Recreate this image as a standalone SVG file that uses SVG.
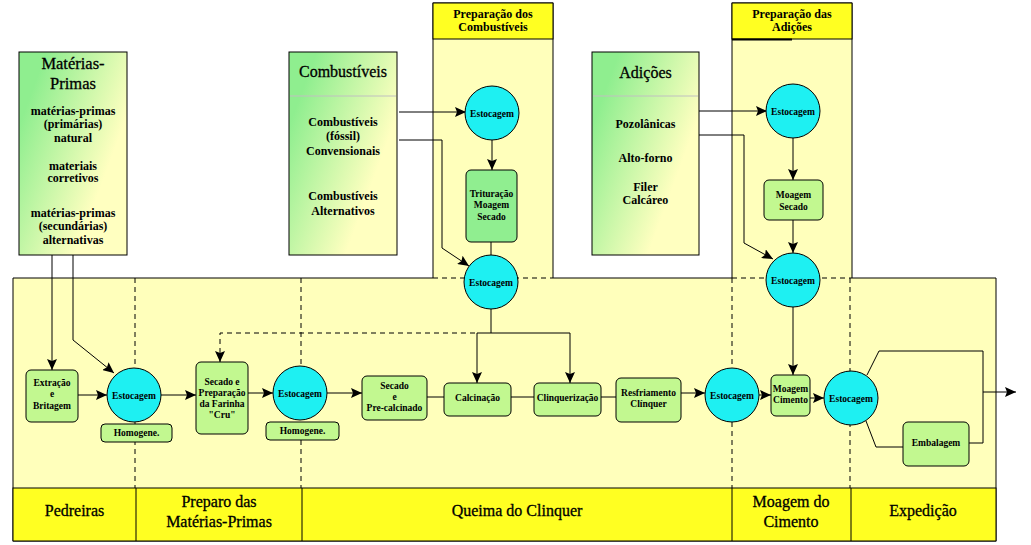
<svg xmlns="http://www.w3.org/2000/svg" width="1031" height="545" viewBox="0 0 1031 545">
<defs>
<linearGradient id="src" x1="0" y1="0.15" x2="1" y2="0.85">
<stop offset="0.1" stop-color="#8FEE8F"/>
<stop offset="0.75" stop-color="#FFFFC0"/>
</linearGradient>
<marker id="ah" markerUnits="userSpaceOnUse" markerWidth="12" markerHeight="10" refX="11" refY="5" orient="auto">
<path d="M0,0 L11,5 L0,10 L2,5 Z" fill="#000"/>
</marker>
</defs>
<style>
.bg{fill:#FFFFBB}
.hdr{fill:#FFFF22;stroke:#000;stroke-width:1}
.src{fill:url(#src);stroke:#000;stroke-width:1}
.box{fill:#C2F890;stroke:#000;stroke-width:1}
.box2{fill:#90EE90;stroke:#000;stroke-width:1}
.circ{fill:#1EF0F2;stroke:#000;stroke-width:1}
.ln{fill:none;stroke:#000;stroke-width:1}
.dash{fill:none;stroke:#000;stroke-width:1;stroke-dasharray:5,4}
.arr{marker-end:url(#ah)}
text{font-family:"Liberation Serif","Times New Roman",serif;text-anchor:middle;fill:#000}
.t9{font-size:9.5px;font-weight:bold}
.t12{font-size:12px;font-weight:bold}
.tt{font-size:16px;stroke:#000;stroke-width:0.3}
.th{font-size:12px;font-weight:bold}
.tb{font-size:16px;stroke:#000;stroke-width:0.3}
</style>

<g id="background">
<rect class="bg" x="13" y="278" width="983" height="263"/>
<rect class="bg" x="433" y="3" width="120" height="275"/>
<rect class="bg" x="732" y="3" width="120" height="275"/>
<path class="ln" d="M433,278 V3 H553 V278"/>
<path class="ln" d="M732,278 V3 H852 V278"/>
<rect class="hdr" x="433" y="3" width="120" height="36"/>
<rect class="hdr" x="732" y="3" width="120" height="36"/>
<line x1="732" y1="39.5" x2="792" y2="39.5" stroke="#000" stroke-width="2"/>
<text class="th" x="493" y="18">Preparação dos</text>
<text class="th" x="493" y="31">Combustíveis</text>
<text class="th" x="792" y="18">Preparação das</text>
<text class="th" x="792" y="31">Adições</text>
<path class="ln" d="M13,278 H433 M553,278 H732 M852,278 H996 V541 H13 V278"/>
<path class="dash" d="M433,278 H553 M732,278 H852"/>
<rect class="hdr" x="13" y="488" width="983" height="53"/>
<path class="ln" d="M136,488 V541 M302,488 V541 M732,488 V541 M851,488 V541"/>
<path class="dash" d="M135,278 V488 M301,278 V488 M732,278 V488 M850,278 V488"/>
<text class="tb" x="74.5" y="516">Pedreiras</text>
<text class="tb" x="219" y="507">Preparo das</text>
<text class="tb" x="219" y="527">Matérias-Primas</text>
<text class="tb" x="517" y="516">Queima do Clinquer</text>
<text class="tb" x="791" y="507">Moagem do</text>
<text class="tb" x="791" y="527">Cimento</text>
<text class="tb" x="923" y="516">Expedição</text>
</g>

<g id="connectors">
<path class="ln arr" d="M52,255 V370"/>
<path class="ln arr" d="M73,255 V340 L114,373"/>
<path class="ln arr" d="M78,395 H107"/>
<path class="ln arr" d="M161,395 H196"/>
<path class="ln arr" d="M248,393 H273"/>
<path class="ln arr" d="M327,393 H362"/>
<path class="ln" d="M427,397 H444 M511,397 H534 M601,397 H616"/>
<path class="ln arr" d="M681,393 H705"/>
<path class="ln arr" d="M759,395 H771"/>
<path class="ln arr" d="M810,398 H824"/>
<path class="ln" d="M867,375 L879,351 H983 V443 H969"/>
<path class="ln arr" d="M983,392 H1016"/>
<path class="ln" d="M866,421 L876,447 H903"/>
<path class="ln arr" d="M399,112 H466"/>
<path class="ln arr" d="M399,140 H442 V248 L469,266"/>
<path class="ln arr" d="M492,140 V170"/>
<path class="ln" d="M491,242 V255"/>
<path class="ln" d="M491,309 V333 M477,333 H570"/>
<path class="ln arr" d="M477,333 V383"/>
<path class="ln arr" d="M570,333 V383"/>
<path class="dash arr" d="M475,333 H220 V362"/>
<path class="ln arr" d="M699,111 H767"/>
<path class="ln arr" d="M699,135 H744 V243 L773,259"/>
<path class="ln arr" d="M793,138 V180"/>
<path class="ln arr" d="M793,220 V253"/>
<path class="ln arr" d="M793,307 V375"/>
</g>

<g id="materias-primas">
<rect class="src" x="19" y="52" width="108" height="203"/>
<text class="tt" x="73" y="69" style="font-size:16.5px">Matérias-</text>
<text class="tt" x="73" y="89" style="font-size:16.5px">Primas</text>
<text class="t12" x="73" y="115">matérias-primas</text>
<text class="t12" x="73" y="128">(primárias)</text>
<text class="t12" x="73" y="142">natural</text>
<text class="t12" x="73" y="170">materiais</text>
<text class="t12" x="73" y="182">corretivos</text>
<text class="t12" x="73" y="217">matérias-primas</text>
<text class="t12" x="73" y="230">(secundárias)</text>
<text class="t12" x="73" y="244">alternativas</text>
</g>

<g id="combustiveis">
<rect class="src" x="289" y="52" width="108" height="203"/>
<line x1="290" y1="96" x2="396" y2="96" stroke="#C0C0C0"/>
<text class="tt" x="343" y="77">Combustíveis</text>
<text class="t12" x="343" y="126">Combustíveis</text>
<text class="t12" x="343" y="140">(fóssil)</text>
<text class="t12" x="343" y="155">Convensionais</text>
<text class="t12" x="343" y="200">Combustíveis</text>
<text class="t12" x="343" y="215">Alternativos</text>
</g>

<g id="adicoes">
<rect class="src" x="592" y="52" width="107" height="203"/>
<line x1="593" y1="96" x2="698" y2="96" stroke="#C0C0C0"/>
<text class="tt" x="645.5" y="78">Adições</text>
<text class="t12" x="645.5" y="128">Pozolânicas</text>
<text class="t12" x="645.5" y="162">Alto-forno</text>
<text class="t12" x="645.5" y="191">Filer</text>
<text class="t12" x="645.5" y="204">Calcáreo</text>
</g>

<g id="estoc-comb-1"><circle class="circ" cx="492" cy="113" r="27"/><text class="t9" x="492" y="116.5">Estocagem</text></g>
<g id="trituracao"><rect class="box2" x="466" y="170" width="51" height="72" rx="5"/>
<text class="t9" x="491.5" y="197">Trituração</text><text class="t9" x="491.5" y="208">Moagem</text><text class="t9" x="491.5" y="220">Secado</text></g>
<g id="estoc-comb-2"><circle class="circ" cx="491" cy="282" r="27"/><text class="t9" x="491" y="285.5">Estocagem</text></g>

<g id="estoc-adi-1"><circle class="circ" cx="793" cy="111" r="27"/><text class="t9" x="793" y="114.5">Estocagem</text></g>
<g id="moagem-secado"><rect class="box" x="764" y="180" width="59" height="40" rx="5"/>
<text class="t9" x="793.5" y="198">Moagem</text><text class="t9" x="793.5" y="210">Secado</text></g>
<g id="estoc-adi-2"><circle class="circ" cx="793" cy="280" r="27"/><text class="t9" x="793" y="283.5">Estocagem</text></g>

<g id="extracao"><rect class="box" x="26" y="370" width="52" height="52" rx="5"/>
<text class="t9" x="52" y="386">Extração</text><text class="t9" x="52" y="397">e</text><text class="t9" x="52" y="409">Britagem</text></g>
<g id="estoc-1"><circle class="circ" cx="134" cy="395" r="27"/><text class="t9" x="134" y="398.5">Estocagem</text></g>
<g id="homog-1"><rect class="box" x="101" y="424" width="71" height="18" rx="4"/><text class="t9" x="136.5" y="436">Homogene.</text></g>
<g id="secado-prep"><rect class="box" x="196" y="362" width="52" height="72" rx="5"/>
<text class="t9" x="222" y="385">Secado e</text><text class="t9" x="222" y="396">Preparação</text><text class="t9" x="222" y="407">da Farinha</text><text class="t9" x="222" y="418">"Cru"</text></g>
<g id="estoc-2"><circle class="circ" cx="300" cy="393" r="27"/><text class="t9" x="300" y="396.5">Estocagem</text></g>
<g id="homog-2"><rect class="box" x="266" y="422" width="73" height="18" rx="4"/><text class="t9" x="302.5" y="434">Homogene.</text></g>
<g id="pre-calc"><rect class="box" x="362" y="376" width="65" height="44" rx="5"/>
<text class="t9" x="394.5" y="389">Secado</text><text class="t9" x="394.5" y="400">e</text><text class="t9" x="394.5" y="411">Pre-calcinado</text></g>
<g id="calcinacao"><rect class="box" x="444" y="383" width="67" height="33" rx="5"/><text class="t9" x="477.5" y="401">Calcinação</text></g>
<g id="clinquerizacao"><rect class="box" x="534" y="383" width="67" height="33" rx="5"/><text class="t9" x="567.5" y="401">Clinquerização</text></g>
<g id="resfriamento"><rect class="box" x="616" y="378" width="65" height="44" rx="5"/>
<text class="t9" x="648.5" y="396">Resfriamento</text><text class="t9" x="648.5" y="407">Clínquer</text></g>
<g id="estoc-3"><circle class="circ" cx="732" cy="395" r="27"/><text class="t9" x="732" y="398.5">Estocagem</text></g>
<g id="moagem-cimento"><rect class="box" x="771" y="375" width="39" height="41" rx="5"/>
<text class="t9" x="790.5" y="392">Moagem</text><text class="t9" x="790.5" y="403">Cimento</text></g>
<g id="estoc-4"><circle class="circ" cx="851" cy="398" r="27"/><text class="t9" x="851" y="401.5">Estocagem</text></g>
<g id="embalagem"><rect class="box" x="903" y="422" width="66" height="44" rx="5"/><text class="t9" x="936" y="446">Embalagem</text></g>
</svg>
